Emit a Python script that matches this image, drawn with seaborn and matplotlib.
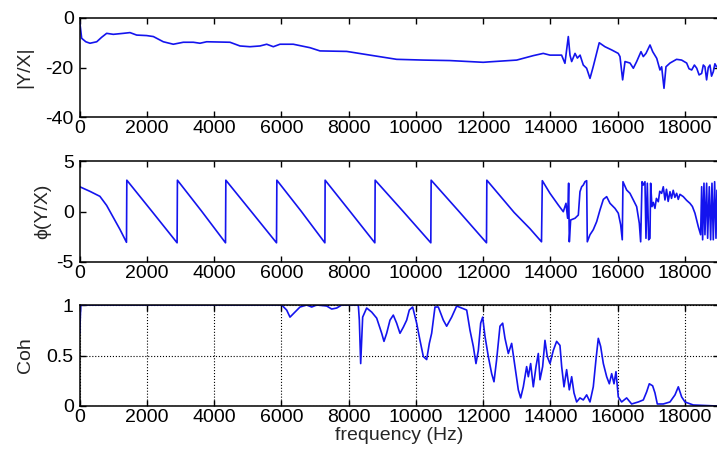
import matplotlib
matplotlib.use("Agg")
import matplotlib.pyplot as plt
import seaborn as sns
import pandas as pd

# Transfer function magnitude |Y/X| (dB) vs frequency (Hz)
mag_freq = [0, 57, 180, 305, 505, 650, 800, 998, 1295, 1494, 1693, 1990, 2190, 2485, 2783,
            3080, 3377, 3576, 3775, 4468, 4766, 5063, 5360, 5560, 5757, 5955,
            6350, 6848, 7145, 7940, 8632, 9425, 10217, 11011, 12000, 12200,
            12995, 13490, 13785, 13985, 14330, 14430, 14530, 14580, 14630,
            14730, 14800, 14880, 14975, 15075, 15175, 15270, 15450, 15620,
            15820, 16015, 16067, 16146, 16216, 16365, 16464, 16563, 16692,
            16760, 16840, 16960, 17040, 17160, 17256, 17306, 17376, 17435,
            17555, 17750, 17900, 18050, 18120, 18200, 18280, 18350, 18420,
            18496, 18545, 18594, 18643, 18693, 18743, 18790, 18842, 18890, 18940]
mag_vals = [-1.5, -8.2, -9.6, -10.2, -9.6, -7.8, -6.2, -6.6, -6.2, -5.9, -6.9, -7.1, -7.5,
            -9.6, -10.6, -9.8, -9.8, -10.2, -9.6, -9.8, -11.3, -11.6, -11.3,
            -10.6, -11.6, -10.6, -10.6, -12.0, -13.3, -13.5, -15.0, -16.7,
            -17.0, -17.2, -17.9, -17.7, -17.0, -15.2, -14.3, -15.0, -15.0,
            -18.3, -7.5, -15.0, -17.6, -14.3, -16.2, -15.0, -19.0, -20.3,
            -24.4, -19.7, -10.0, -11.6, -12.9, -14.3, -15.6, -25.0, -17.6,
            -18.2, -20.3, -17.6, -13.6, -15.6, -14.3, -10.9, -13.6, -16.3,
            -21.0, -19.7, -28.4, -19.7, -18.2, -16.7, -17.0, -18.2, -20.5,
            -21.0, -19.0, -20.3, -23.0, -22.4, -19.0, -19.7, -25.0, -20.0,
            -19.0, -23.5, -21.7, -18.5, -19.7]

# Phase of Y/X (rad)
ph_freq = [0, 300, 600, 800, 1000, 1200, 1390,
           1400, 2150, 2895,
           2905, 3620, 4335,
           4345, 5100, 5852,
           5862, 6580, 7290,
           7298, 8040, 8776,
           8786, 9620, 10441,
           10451, 11280, 12097,
           12107, 12920, 13390, 13733,
           13757, 13985, 14233, 14381, 14461, 14510, 14540, 14560, 14600,
           14729, 14828, 14877, 14927, 14976, 15026, 15076, 15095, 15175,
           15273, 15374, 15472, 15572, 15671, 15770, 15918, 16017, 16087,
           16135, 16156, 16265, 16364, 16464, 16563, 16642, 16682, 16722,
           16761, 16810, 16840, 16880, 16920, 16959, 16979, 17018, 17060,
           17107, 17150, 17206, 17250, 17306, 17355, 17405, 17450, 17500,
           17554, 17600, 17650, 17700, 17752, 17800, 17850, 17950, 18050,
           18148, 18220, 18297, 18396, 18466, 18496, 18525, 18565, 18594,
           18644, 18674, 18723, 18763, 18803, 18842, 18882, 18922, 18951]
ph_vals = [2.45, 2.0, 1.5, 0.6, -0.6, -1.8, -3.05,
           3.1, 0.0, -3.1,
           3.1, 0.05, -3.1,
           3.1, 0.0, -3.1,
           3.1, 0.05, -3.1,
           3.1, 0.0, -3.1,
           3.1, 0.0, -3.1,
           3.1, 0.0, -3.1,
           3.1, -0.1, -1.7, -3.0,
           3.05, 1.8, 0.64, -0.02, 0.81, -0.67, 2.8, -3.0, -0.84,
           -0.67, -0.35, 1.96, 2.45, 2.62, 2.95, 3.05, -3.0, -2.3,
           -1.8, -1.0, 0.15, 1.2, 1.47, 0.81, 0.31, -0.17, -1.3,
           -2.8, 2.95, 2.13, 1.8, 1.14, 0.48, -1.17, -3.0, 2.95,
           2.62, 2.95, -2.65, 2.8, -2.8, -2.65, 2.8, 0.48, 0.9,
           0.31, 1.3, 0.97, 2.0, 1.8, 2.45, 1.14, 2.2, 1.0,
           1.96, 1.3, 2.1, 1.4, 1.8, 1.2, 1.7, 1.47, 1.1,
           0.81, 0.5, -0.17, -1.5, -2.3, 2.45, -2.8, 2.8, -2.3,
           2.8, -2.65, 2.45, -2.8, 2.8, -2.8, 2.95, -2.65, 2.1]

# Coherence
coh_freq = [0, 30, 6005, 6154, 6253, 6401, 6550, 6749, 6898, 7047, 7344, 7493,
            7642, 7790, 8285, 8315, 8355, 8414, 8533, 8682, 8831, 8980, 9048,
            9128, 9227, 9325, 9425, 9524, 9623, 9723, 9801, 9901, 10020,
            10119, 10218, 10318, 10397, 10466, 10565, 10664, 10813, 10912,
            11061, 11210, 11359, 11508, 11606, 11705, 11784, 11854, 11924,
            11983, 12052, 12151, 12251, 12320, 12399, 12498, 12578, 12647,
            12746, 12845, 12944, 13043, 13113, 13192, 13291, 13341, 13410,
            13489, 13569, 13638, 13688, 13767, 13836, 13905, 13985, 14084,
            14183, 14282, 14333, 14402, 14480, 14560, 14630, 14699, 14778,
            14877, 14976, 15076, 15175, 15273, 15353, 15422, 15492, 15572,
            15671, 15750, 15820, 15889, 15948, 16017, 16116, 16265, 16414,
            16612, 16761, 16860, 16939, 17038, 17107, 17177, 17355, 17554,
            17703, 17802, 17901, 18000, 18247, 18943]
coh_vals = [0.72, 1.0, 1.0, 0.95, 0.88, 0.93, 0.98, 1.0, 0.98, 1.0, 0.99, 0.96,
            0.97, 1.0, 1.0, 0.85, 0.42, 0.88, 0.97, 0.93, 0.87, 0.72, 0.64,
            0.72, 0.85, 0.90, 0.82, 0.72, 0.78, 0.85, 0.95, 0.98, 0.82,
            0.65, 0.49, 0.46, 0.62, 0.72, 0.98, 0.98, 0.85, 0.79,
            0.88, 0.99, 0.97, 0.95, 0.75, 0.59, 0.42, 0.55, 0.82,
            0.88, 0.69, 0.49, 0.32, 0.24, 0.46, 0.79, 0.82, 0.67,
            0.52, 0.62, 0.39, 0.16, 0.08, 0.19, 0.39, 0.29, 0.42,
            0.19, 0.39, 0.52, 0.26, 0.39, 0.65, 0.49, 0.42, 0.55,
            0.64, 0.60, 0.39, 0.19, 0.36, 0.16, 0.29, 0.13, 0.04,
            0.08, 0.06, 0.11, 0.04, 0.19, 0.46, 0.67, 0.59, 0.42,
            0.29, 0.22, 0.32, 0.22, 0.34, 0.09, 0.04, 0.08, 0.02,
            0.04, 0.06, 0.14, 0.22, 0.20, 0.13, 0.02, 0.02, 0.04,
            0.11, 0.19, 0.09, 0.04, 0.01, 0.0]

x_ticks = [0, 2000, 4000, 6000, 8000, 10000, 12000, 14000, 16000, 18000]

sns.set_theme(style="ticks")
plt.rcParams["font.family"] = ["Liberation Sans", "DejaVu Sans"]
plt.rcParams["axes.unicode_minus"] = False
FS = 14

W, H = 717, 454
fig = plt.figure(figsize=(W / 100, H / 100), dpi=100)
line_color = "#1414ee"


def add_axes(top_px, bottom_px):
    left, right = 79.75, 718.6
    return fig.add_axes([left / W, 1 - bottom_px / H, (right - left) / W,
                         (bottom_px - top_px) / H])


panels = [
    (add_axes(18, 117), mag_freq, mag_vals, (-40, 0), [-40, -20, 0], "|Y/X|", 9),
    (add_axes(161, 262), ph_freq, ph_vals, (-5, 5), [-5, 0, 5], "\u03d5(Y/X)", 4),
    (add_axes(305, 406), coh_freq, coh_vals, (0, 1), [0, 0.5, 1], "Coh", 9),
]

for ax, fx, fy, ylim, yt, lab, lpad in panels:
    df = pd.DataFrame({"f": fx, "v": fy})
    sns.lineplot(data=df, x="f", y="v", ax=ax, color=line_color, lw=1.2,
                 estimator=None, sort=False)
    ax.set_xlim(0, 19000)
    ax.set_ylim(*ylim)
    ax.set_xticks(x_ticks)
    ax.set_xticklabels([str(t) for t in x_ticks])
    ax.set_yticks(yt)
    ax.set_yticklabels([("%g" % t) for t in yt])
    ax.set_xlabel("")
    ax.set_ylabel(lab, fontsize=FS, labelpad=lpad)
    ax.tick_params(direction="in", length=4, width=1, top=True, right=True,
                   labelsize=FS, colors="black")
    ax.tick_params(axis="x", pad=2)
    ax.tick_params(axis="y", pad=4.3)
    for s in ax.spines.values():
        s.set_visible(True)
        s.set_linewidth(1.1)
        s.set_color("black")
    ax.set_facecolor("white")

coh_ax = panels[2][0]
coh_ax.grid(True, linestyle=":", color="black", linewidth=0.8)
coh_ax.set_axisbelow(True)
coh_ax.set_xlabel("frequency (Hz)", fontsize=FS, labelpad=1)

fig.savefig("out.png", dpi=100, facecolor="white")
